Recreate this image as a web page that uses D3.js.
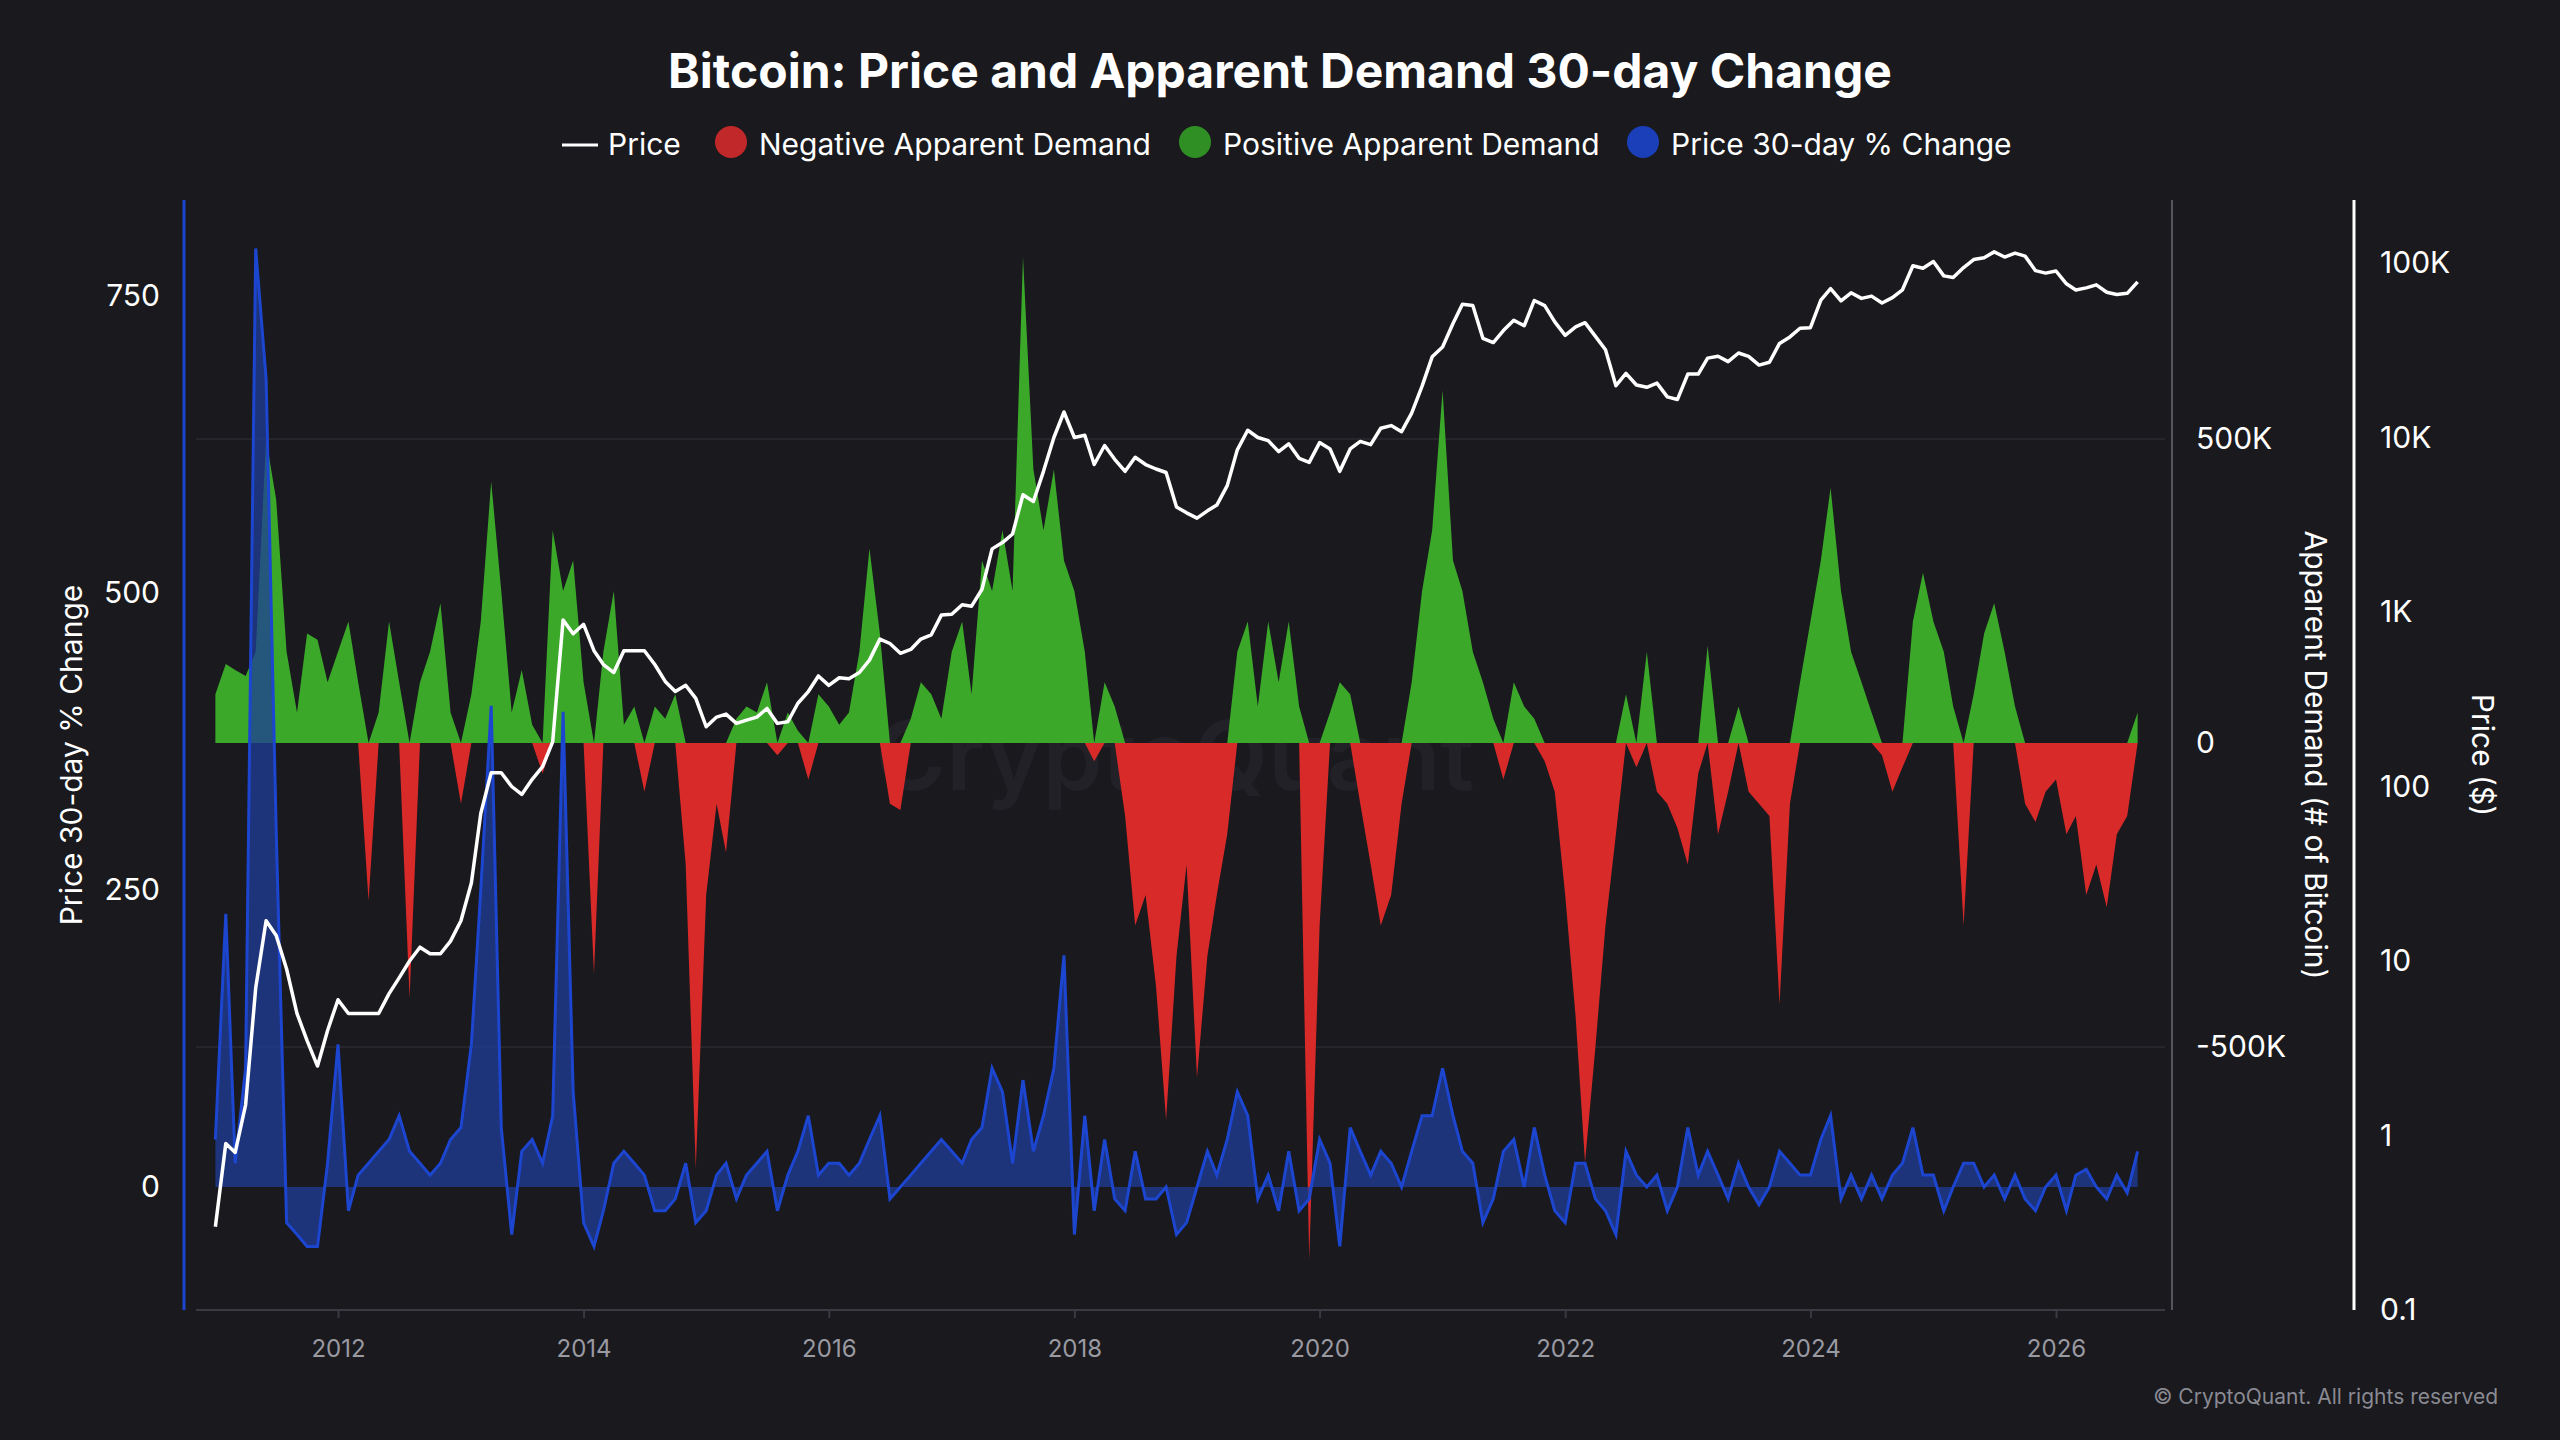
<!DOCTYPE html>
<html>
<head>
<meta charset="utf-8">
<script src="https://cdn.jsdelivr.net/npm/d3@7"></script>
<style>
  body { margin: 0; background: #19191e; }
  text { font-family: Inter, "Noto Sans", sans-serif; }
</style>
</head>
<body>
<script>
// monthly values, first point Jan 2011
var startYear = 2011;

// Apparent demand 30-day change, thousands of BTC
var demand = [
  80,130,120,110,150,500,400,150,50,180,170,100,
  150,200,100,-260,50,200,100,-420,100,150,230,50,
  -100,80,200,430,250,50,120,30,-50,350,250,300,
  100,-380,150,250,30,60,-80,60,40,80,-200,-700,
  -250,-100,-180,40,60,50,100,-20,50,20,-60,80,
  60,30,50,150,320,180,-100,-110,40,100,80,40,
  150,200,80,300,250,350,250,800,450,350,450,300,
  250,150,-30,100,60,-120,-300,-250,-400,-620,-350,-200,
  -550,-350,-250,-150,150,200,60,200,100,200,60,-850,
  -300,50,100,80,-100,-200,-300,-250,-100,100,250,350,
  580,300,250,150,100,40,-60,100,60,40,-30,-80,
  -250,-450,-690,-500,-300,-150,80,-40,150,-80,-100,-140,
  -200,-50,160,-150,-80,60,-80,-100,-120,-430,-100,100,
  200,300,420,250,150,100,50,-20,-80,-40,200,280,
  200,150,60,-300,80,180,230,150,60,-100,-130,-80,
  -60,-150,-120,-250,-200,-270,-150,-120,50
];

// Price 30-day % change
var pctChange = [
  40,230,20,100,790,680,300,-30,-40,-50,-50,20,
  120,-20,10,20,30,40,60,30,20,10,20,40,
  50,120,250,405,50,-40,30,40,20,60,400,80,
  -30,-50,-20,20,30,20,10,-20,-20,-10,20,-30,
  -20,10,20,-10,10,20,30,-20,10,30,60,10,
  20,20,10,20,40,60,-10,0,10,20,30,40,
  30,20,40,50,100,80,20,90,30,60,100,195,
  -40,60,-20,40,-10,-20,30,-10,-10,0,-40,-30,
  0,30,10,40,80,60,-10,10,-20,30,-20,-10,
  40,20,-50,50,30,10,30,20,0,30,60,60,
  100,60,30,20,-30,-10,30,40,0,50,10,-20,
  -30,20,20,-10,-20,-40,30,10,0,10,-20,0,
  50,10,30,10,-10,20,0,-15,0,30,20,10,
  10,40,60,-10,10,-10,10,-10,10,20,50,10,
  10,-20,0,20,20,0,10,-10,10,-10,-20,0,
  10,-20,10,15,0,-10,10,-5,30
];

// BTC price, USD
var price = [
  0.3,0.9,0.8,1.5,7,17,14,9,5,3.5,2.5,4,
  6,5,5,5,5,6.5,8,10,12,11,11,13,
  17,28,70,120,120,100,90,110,130,180,900,750,
  850,600,500,450,600,600,600,500,400,350,380,320,
  220,250,260,230,240,250,280,230,235,300,350,430,
  380,420,415,450,530,700,660,580,610,700,740,960,
  970,1100,1080,1350,2300,2500,2800,4700,4300,6400,10000,14000,
  10000,10300,7000,9000,7500,6400,7700,7000,6600,6300,4000,3700,
  3450,3800,4100,5300,8500,11000,10000,9600,8300,9200,7600,7200,
  9350,8600,6400,8600,9500,9100,11300,11700,10800,13800,19700,29000,
  33000,45000,58000,57000,37000,35000,41000,47000,43700,61000,57000,46000,
  38500,43000,45500,38000,31800,19800,23300,20000,19400,20500,17100,16500,
  23100,23100,28500,29200,27200,30500,29200,26000,27000,34600,37700,42300,
  42600,61200,71300,60600,67500,62700,64600,59000,63300,70200,96400,93400,
  102000,84400,82500,94200,104600,107100,115800,108200,114000,109500,90400,87500,
  90000,76000,70000,72000,75000,68000,66000,67000,78000
];

var pctTicks = [0, 250, 500, 750];
var demandTicks = [-500, 0, 500];
var priceTicks = [0.1, 1, 10, 100, 1000, 10000, 100000];
var priceTickLabels = ["0.1", "1", "10", "100", "1K", "10K", "100K"];
var yearTicks = [2012, 2014, 2016, 2018, 2020, 2022, 2024, 2026];

var W = 2560, H = 1440;
var bg = "#19191e";

var dates = demand.map(function(d, i){ return new Date(startYear, i, 1); });

var svg = d3.select("body").append("svg")
    .attr("width", W).attr("height", H)
    .style("background", bg);

var x = d3.scaleTime()
    .domain([new Date(2012, 0, 1), new Date(2026, 0, 1)])
    .range([338, 2056]);
var yPct = d3.scaleLinear().domain([0, 750]).range([1187, 296]);
var yDem = d3.scaleLinear().domain([-500, 500]).range([1047, 439]);
var yPrice = d3.scaleLog().domain([0.1, 100000]).range([1310, 263]);

var plotL = 196, plotR = 2165, plotT = 200, plotB = 1310;

// gridlines
svg.append("g").selectAll("line")
    .data([-500, 500]).enter().append("line")
    .attr("x1", plotL).attr("x2", plotR)
    .attr("y1", function(d){ return yDem(d); })
    .attr("y2", function(d){ return yDem(d); })
    .attr("stroke", "#2a2a30").attr("stroke-width", 1.5);

// watermark
svg.append("text")
    .attr("x", 1175).attr("y", 790)
    .attr("text-anchor", "middle")
    .attr("font-size", 96).attr("font-weight", 600)
    .attr("fill", "#212127")
    .text("CryptoQuant");

// demand areas
var demArea = function(f){
    return d3.area()
        .x(function(d, i){ return x(dates[i]); })
        .y0(yDem(0))
        .y1(function(d){ return yDem(f(d)); });
};
svg.append("path").datum(demand)
    .attr("d", demArea(function(v){ return Math.max(0, v); }))
    .attr("fill", "#3ba82a");
svg.append("path").datum(demand)
    .attr("d", demArea(function(v){ return Math.min(0, v); }))
    .attr("fill", "#d92a2a");

// pct change
svg.append("path").datum(pctChange)
    .attr("d", d3.area()
        .x(function(d, i){ return x(dates[i]); })
        .y0(yPct(0))
        .y1(function(d){ return yPct(d); }))
    .attr("fill", "#1f3c99").attr("fill-opacity", 0.75);
svg.append("path").datum(pctChange)
    .attr("d", d3.line()
        .x(function(d, i){ return x(dates[i]); })
        .y(function(d){ return yPct(d); }))
    .attr("fill", "none").attr("stroke", "#1d46d0").attr("stroke-width", 3);

// price
svg.append("path").datum(price)
    .attr("d", d3.line()
        .x(function(d, i){ return x(dates[i]); })
        .y(function(d){ return yPrice(d); }))
    .attr("fill", "none").attr("stroke", "#ffffff").attr("stroke-width", 3.5)
    .attr("stroke-linejoin", "round");

// x axis
svg.append("line")
    .attr("x1", plotL).attr("x2", plotR).attr("y1", plotB).attr("y2", plotB)
    .attr("stroke", "#3a3a42").attr("stroke-width", 2);
var xg = svg.append("g")
    .attr("transform", "translate(0," + plotB + ")")
    .call(d3.axisBottom(x)
        .tickValues(yearTicks.map(function(y){ return new Date(y, 0, 1); }))
        .tickFormat(d3.timeFormat("%Y"))
        .tickSize(8).tickPadding(22));
xg.select(".domain").remove();
xg.selectAll("line").attr("stroke", "#3a3a42").attr("stroke-width", 2);
xg.selectAll("text").attr("fill", "#9a9aa2").attr("font-size", 24);

// left axis
svg.append("line")
    .attr("x1", 184).attr("x2", 184).attr("y1", plotT).attr("y2", plotB)
    .attr("stroke", "#1d46d0").attr("stroke-width", 3);
var lg = svg.append("g")
    .attr("transform", "translate(184,0)")
    .call(d3.axisLeft(yPct).tickValues(pctTicks).tickSize(0).tickPadding(24));
lg.select(".domain").remove();
lg.selectAll("text").attr("fill", "#ffffff").attr("font-size", 30);

// middle axis
svg.append("line")
    .attr("x1", 2172).attr("x2", 2172).attr("y1", plotT).attr("y2", plotB)
    .attr("stroke", "#55555c").attr("stroke-width", 2);
var mg = svg.append("g")
    .attr("transform", "translate(2172,0)")
    .call(d3.axisRight(yDem).tickValues(demandTicks).tickSize(0).tickPadding(24)
        .tickFormat(function(d){ return d === 0 ? "0" : d + "K"; }));
mg.select(".domain").remove();
mg.selectAll("text").attr("fill", "#ffffff").attr("font-size", 30);

// right axis
svg.append("line")
    .attr("x1", 2354).attr("x2", 2354).attr("y1", plotT).attr("y2", plotB)
    .attr("stroke", "#ffffff").attr("stroke-width", 3);
var rg = svg.append("g")
    .attr("transform", "translate(2354,0)")
    .call(d3.axisRight(yPrice).tickValues(priceTicks).tickSize(0).tickPadding(26)
        .tickFormat(function(d, i){ return priceTickLabels[i]; }));
rg.select(".domain").remove();
rg.selectAll("text").attr("fill", "#ffffff").attr("font-size", 30);

// axis titles
svg.append("text")
    .attr("transform", "translate(82,755) rotate(-90)")
    .attr("text-anchor", "middle").attr("font-size", 30).attr("fill", "#ffffff")
    .text("Price 30-day % Change");
svg.append("text")
    .attr("transform", "translate(2305,755) rotate(90)")
    .attr("text-anchor", "middle").attr("font-size", 30).attr("fill", "#ffffff")
    .text("Apparent Demand (# of Bitcoin)");
svg.append("text")
    .attr("transform", "translate(2472,755) rotate(90)")
    .attr("text-anchor", "middle").attr("font-size", 30).attr("fill", "#ffffff")
    .text("Price ($)");

// title
svg.append("text")
    .attr("x", 1280).attr("y", 88)
    .attr("text-anchor", "middle").attr("font-size", 48).attr("font-weight", 700)
    .attr("fill", "#ffffff")
    .text("Bitcoin: Price and Apparent Demand 30-day Change");

// legend
var legend = svg.append("g").attr("font-size", 30).attr("fill", "#ffffff");
legend.append("line").attr("x1", 562).attr("x2", 598).attr("y1", 145).attr("y2", 145)
    .attr("stroke", "#ffffff").attr("stroke-width", 3);
legend.append("text").attr("x", 608).attr("y", 155).text("Price");
var legItems = [
  ["#c0282a", 731, "Negative Apparent Demand"],
  ["#2f8f24", 1195, "Positive Apparent Demand"],
  ["#1a3fb8", 1643, "Price 30-day % Change"]
];
legItems.forEach(function(it){
    legend.append("circle").attr("cx", it[1]).attr("cy", 142).attr("r", 16).attr("fill", it[0]);
    legend.append("text").attr("x", it[1] + 28).attr("y", 155).text(it[2]);
});

// copyright
svg.append("text")
    .attr("x", 2498).attr("y", 1404)
    .attr("text-anchor", "end").attr("font-size", 21).attr("fill", "#8a8a92")
    .text("© CryptoQuant. All rights reserved");
</script>
</body>
</html>
